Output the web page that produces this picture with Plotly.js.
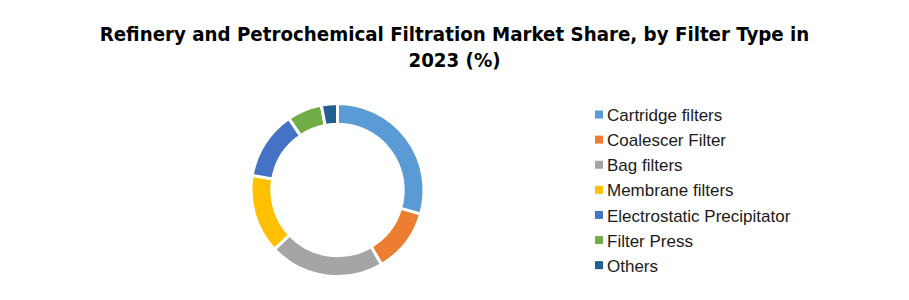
<!DOCTYPE html>
<html>
<head>
<meta charset="utf-8">
<script src="https://cdn.plot.ly/plotly-3.0.1.min.js"></script>
<style>html,body{margin:0;padding:0;background:#fff;}#chart{width:909px;height:300px;}</style>
</head>
<body>
<div id="chart"></div>
<script>
const categories = ["Cartridge filters","Coalescer Filter","Bag filters","Membrane filters","Electrostatic Precipitator","Filter Press","Others"];
const shares = [29.5, 12, 21.5, 14.7, 12.8, 6.5, 3];
const colors = ["#5B9BD5","#ED7D31","#A5A5A5","#FFC000","#4472C4","#70AD47","#255E91"];
const titleText = "Refinery and Petrochemical Filtration Market Share, by Filter Type in<br>2023 (%)";

const trace = {
  type: "pie",
  labels: categories,
  values: shares,
  hole: 0.76,
  sort: false,
  direction: "clockwise",
  rotation: 0,
  textinfo: "none",
  hoverinfo: "label+percent",
  marker: {colors: colors, line: {color: "#ffffff", width: 3}},
  domain: {x: [251/909, 424/909], y: [23.5/300, 196.5/300]}
};

const layout = {
  width: 909, height: 300,
  margin: {l: 0, r: 0, t: 0, b: 0},
  paper_bgcolor: "#ffffff",
  title: {
    text: titleText,
    font: {family: "DejaVu Sans Condensed, Liberation Sans Narrow, Liberation Sans, sans-serif", size: 20.3, color: "#000000", weight: "bold"},
    x: 0.5, xref: "container", xanchor: "center",
    y: 1 - 41/300, yref: "container", yanchor: "top"
  },
  showlegend: true,
  legend: {
    x: 578/909, xanchor: "left",
    y: 1 - 97/300, yanchor: "top",
    font: {family: "Liberation Sans, Arial, sans-serif", size: 17, color: "#1a1a1a"},
    itemwidth: 30,
    traceorder: "normal"
  }
};

function fixLegend(){
  document.querySelectorAll(".legendpoints path").forEach(function(p){
    p.setAttribute("d", "M4,4H-4V-4H4Z");
    p.setAttribute("transform", "translate(21,0)");
    p.style.strokeWidth = "0";
  });
  document.querySelectorAll(".legendtext").forEach(function(t){
    t.setAttribute("x", "29");
  });
}
Plotly.newPlot("chart", [trace], layout, {staticPlot: true}).then(fixLegend);
</script>
</body>
</html>
